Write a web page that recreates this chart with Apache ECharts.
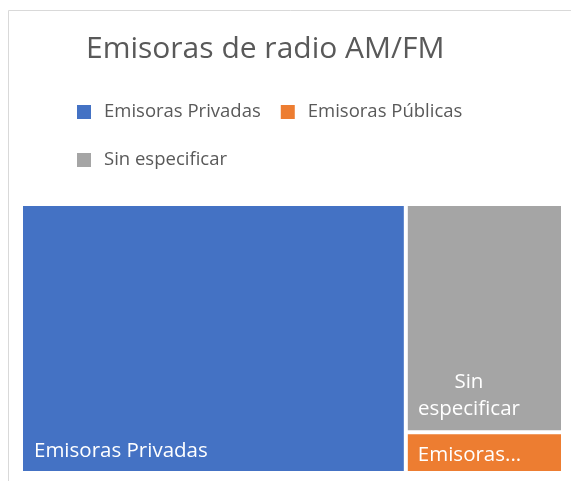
<!DOCTYPE html>
<html>
<head>
<meta charset="utf-8">
<script src="https://cdn.jsdelivr.net/npm/echarts@6/dist/echarts.min.js"></script>
<style>
  html, body { margin: 0; padding: 0; background: #fff; }
  #main { width: 571px; height: 481px; }
</style>
</head>
<body>
<div id="main"></div>
<script>
// datos del treemap
const categories = ['Emisoras Privadas', 'Emisoras Públicas', 'Sin especificar'];
const values = [710, 44, 246];
const colors = ['#4472C4', '#ED7D31', '#A5A5A5'];
// texto mostrado dentro de cada rectángulo
const boxLabels = ['Emisoras Privadas', 'Emisoras...', '{c|Sin}\n{c|especificar}'];

const font = '"Open Sans", sans-serif';
// desplazamiento de la etiqueta desde la esquina inferior izquierda
const labelOffset = {
  'Emisoras Privadas': [11, -33],
  'Emisoras Públicas': [10, -29],
  'Sin especificar': [-15.5, -62]
};

const chart = echarts.init(document.getElementById('main'));

const treeData = categories.map((name, i) => ({
  name: name,
  value: values[i],
  itemStyle: { color: colors[i] },
  label: { formatter: boxLabels[i], offset: labelOffset[name] }
}));

const option = {
  animation: false,
  color: colors,
  graphic: [{
    type: 'rect',
    left: 6,
    top: 8,
    shape: { width: 620, height: 520 },
    style: { fill: 'none', stroke: '#D9D9D9', lineWidth: 1 },
    silent: true
  }],
  title: {
    text: 'Emisoras de radio AM/FM',
    left: 86,
    top: 34,
    padding: 0,
    textStyle: { fontFamily: font, fontSize: 30, fontWeight: 'normal', color: '#595959' }
  },
  legend: {
    left: 77,
    top: 98,
    width: 410,
    padding: 0,
    itemWidth: 14,
    itemHeight: 14,
    itemGap: 20,
    icon: 'rect',
    selectedMode: false,
    data: categories,
    textStyle: { fontFamily: font, fontSize: 18.5, color: '#595959', lineHeight: 28, padding: [0, 0, 0, 8] }
  },
  series: [
    {
      // serie auxiliar solo para la leyenda
      type: 'pie',
      radius: [0, 0],
      silent: true,
      label: { show: false },
      labelLine: { show: false },
      data: categories.map((name, i) => ({ name: name, value: values[i], itemStyle: { color: colors[i] } }))
    },
    {
      type: 'treemap',
      left: 23,
      top: 206,
      right: 10,
      bottom: 10,
      roam: false,
      nodeClick: false,
      breadcrumb: { show: false },
      levels: [{ itemStyle: { gapWidth: 4, borderWidth: 0 } }],
      label: {
        show: true,
        position: [0, '100%'],
        align: 'left',
        verticalAlign: 'top',
        padding: 0,
        fontFamily: font,
        fontSize: 20.5,
        color: '#fff',
        lineHeight: 27,
        rich: { c: { width: 103, align: 'center', fontFamily: font, fontSize: 20.5, color: '#fff', lineHeight: 27 } }
      },
      data: treeData
    }
  ]
};

chart.setOption(option);
window.onresize = function () {
  chart.resize();
};
</script>
</body>
</html>
